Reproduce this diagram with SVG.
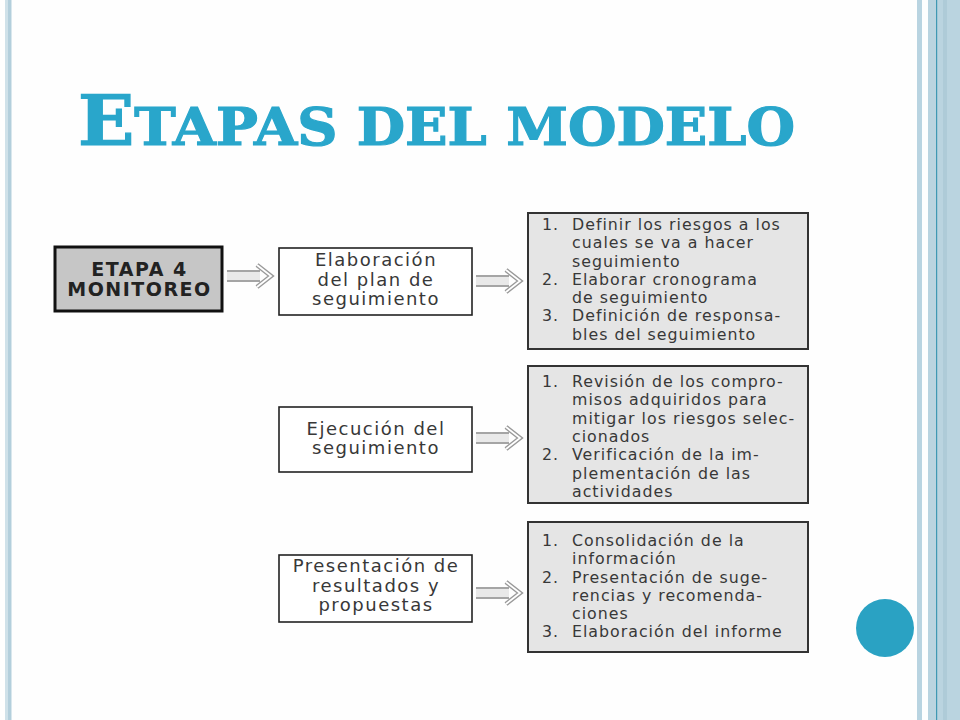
<svg xmlns="http://www.w3.org/2000/svg" width="960" height="720" viewBox="0 0 960 720">
  <style>
    .title { font-family: "DejaVu Serif", "Liberation Serif", serif; font-weight: bold; fill: #29a6cb; stroke: #29a6cb; stroke-width: 1.2px; }
    .head { font-family: "DejaVu Sans", "Liberation Sans", sans-serif; font-weight: bold; font-size: 19px; letter-spacing: 1.5px; fill: #222; text-anchor: middle; }
    .box { font-family: "DejaVu Sans", "Liberation Sans", sans-serif; font-size: 18px; letter-spacing: 1.5px; fill: #383838; text-anchor: middle; }
    .list { font-family: "DejaVu Sans", "Liberation Sans", sans-serif; font-size: 15.8px; letter-spacing: 1px; fill: #383838; }
    .wbox { fill: #ffffff; stroke: #222; stroke-width: 1.6; }
    .gbox { fill: #e5e5e5; stroke: #333; stroke-width: 2; }
    .shaftfill { fill: #e9e9e9; stroke: none; }
    .shaft { stroke: #a5a5a5; stroke-width: 2.2; fill: none; }
    .chev-o { stroke: #9a9a9a; stroke-width: 4.6; fill: none; stroke-linejoin: miter; }
    .chev-i { stroke: #ffffff; stroke-width: 1.8; fill: none; stroke-linejoin: miter; }
  </style>
  <defs>
    <g id="arrow">
      <rect class="shaftfill" x="0" y="-5" width="33" height="10"/>
      <line class="shaft" x1="0" y1="-5" x2="33" y2="-5"/>
      <line class="shaft" x1="0" y1="5" x2="33" y2="5"/>
      <path class="chev-o" d="M30,-11 L44,0 L30,11"/>
      <path class="chev-i" d="M30,-11 L44,0 L30,11"/>
    </g>
  </defs>

  <rect x="0" y="0" width="960" height="720" fill="#fefefe"/>

  <!-- decorative edges -->
  <g id="decor">
    <rect x="5" y="0" width="3" height="720" fill="#cfe1e9"/>
    <rect x="8" y="0" width="3.5" height="720" fill="#b3cfdc"/>
    <rect x="917" y="0" width="5" height="720" fill="#b9d4e1"/>
    <rect x="928" y="0" width="32" height="720" fill="#bad4e0"/>
    <rect x="943" y="0" width="4" height="720" fill="#aecbd8"/>
    <rect x="936" y="0" width="1.2" height="720" fill="#3f98b3"/>
    <circle cx="885" cy="628" r="29" fill="#2aa2c3"/>
  </g>

  <text class="title" x="78" y="145" textLength="717" lengthAdjust="spacingAndGlyphs"><tspan font-size="69">E</tspan><tspan font-size="52">TAPAS DEL MODELO</tspan></text>

  <g id="connectors">
    <use href="#arrow" x="227" y="276"/>
    <use href="#arrow" x="476" y="281"/>
    <use href="#arrow" x="476" y="438"/>
    <use href="#arrow" x="476" y="593"/>
  </g>

  <g id="etapa4">
    <rect x="55" y="247" width="167" height="64" fill="#c6c6c6" stroke="#111" stroke-width="3"/>
    <text class="head" x="139.5" y="276">ETAPA 4</text>
    <text class="head" x="139.5" y="296">MONITOREO</text>
  </g>

  <g id="elaboracion">
    <rect class="wbox" x="279" y="248" width="193" height="67"/>
    <text class="box" x="376" y="266">Elaboración</text>
    <text class="box" x="376" y="285.5">del plan de</text>
    <text class="box" x="376" y="305">seguimiento</text>
  </g>

  <g id="ejecucion">
    <rect class="wbox" x="279" y="407" width="193" height="65"/>
    <text class="box" x="376" y="435">Ejecución del</text>
    <text class="box" x="376" y="454">seguimiento</text>
  </g>

  <g id="presentacion">
    <rect class="wbox" x="279" y="555" width="193" height="67"/>
    <text class="box" x="376" y="572">Presentación de</text>
    <text class="box" x="376" y="591.5">resultados y</text>
    <text class="box" x="376" y="611">propuestas</text>
  </g>

  <g id="lista1">
    <rect class="gbox" x="528" y="213" width="280" height="136"/>
    <text class="list" x="542" y="229.5">1.</text>
    <text class="list" x="572" y="229.5">Definir los riesgos a los</text>
    <text class="list" x="572" y="248">cuales se va a hacer</text>
    <text class="list" x="572" y="266.5">seguimiento</text>
    <text class="list" x="542" y="284.5">2.</text>
    <text class="list" x="572" y="284.5">Elaborar cronograma</text>
    <text class="list" x="572" y="303">de seguimiento</text>
    <text class="list" x="542" y="321">3.</text>
    <text class="list" x="572" y="321">Definición de responsa-</text>
    <text class="list" x="572" y="339.5">bles del seguimiento</text>
  </g>

  <g id="lista2">
    <rect class="gbox" x="528" y="366" width="280" height="137"/>
    <text class="list" x="542" y="387">1.</text>
    <text class="list" x="572" y="387">Revisión de los compro-</text>
    <text class="list" x="572" y="405">misos adquiridos para</text>
    <text class="list" x="572" y="423.5">mitigar los riesgos selec-</text>
    <text class="list" x="572" y="442">cionados</text>
    <text class="list" x="542" y="460">2.</text>
    <text class="list" x="572" y="460">Verificación de la im-</text>
    <text class="list" x="572" y="478.5">plementación de las</text>
    <text class="list" x="572" y="497">actividades</text>
  </g>

  <g id="lista3">
    <rect class="gbox" x="528" y="522" width="280" height="130"/>
    <text class="list" x="542" y="546">1.</text>
    <text class="list" x="572" y="546">Consolidación de la</text>
    <text class="list" x="572" y="564">información</text>
    <text class="list" x="542" y="583">2.</text>
    <text class="list" x="572" y="583">Presentación de suge-</text>
    <text class="list" x="572" y="601">rencias y recomenda-</text>
    <text class="list" x="572" y="619">ciones</text>
    <text class="list" x="542" y="637">3.</text>
    <text class="list" x="572" y="637">Elaboración del informe</text>
  </g>
</svg>
